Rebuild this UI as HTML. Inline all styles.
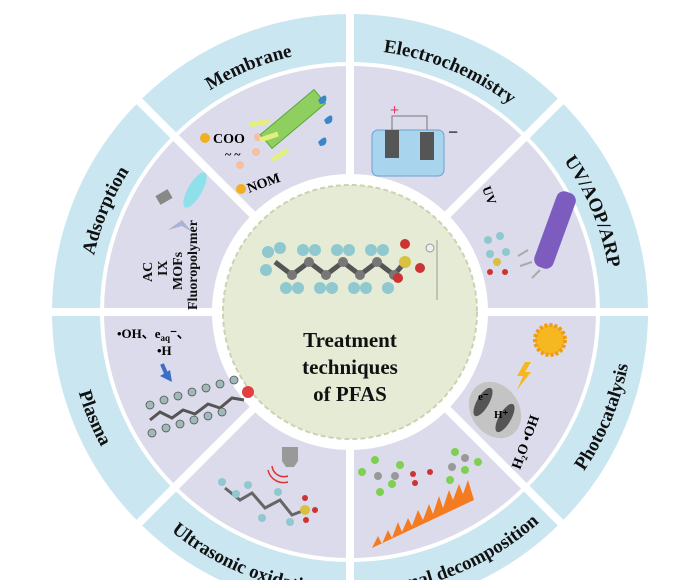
<!DOCTYPE html>
<html><head><style>
html,body{margin:0;padding:0;background:#fff;width:700px;height:580px;overflow:hidden;}
svg{display:block;font-family:"Liberation Serif",serif;font-weight:bold;}
</style></head><body>
<svg width="700" height="580" viewBox="0 0 700 580" overflow="hidden">
<defs>
<path id="pAds" d="M100.1,390.8 A262,262 0 0 1 229.0,79.6"/>
<path id="pMem" d="M117.6,191.0 A262,262 0 0 1 428.8,62.1"/>
<path id="pEle" d="M271.2,62.1 A262,262 0 0 1 582.4,191.0"/>
<path id="pUV" d="M471.0,79.6 A262,262 0 0 1 599.9,390.8"/>
<path id="pPho" d="M480.7,563.0 A283,283 0 0 0 619.9,226.9"/>
<path id="pThe" d="M264.9,581.9 A283,283 0 0 0 601.0,442.7"/>
<path id="pUlt" d="M99.0,442.7 A283,283 0 0 0 435.1,581.9"/>
<path id="pPla" d="M80.1,226.9 A283,283 0 0 0 219.3,563.0"/>
<clipPath id="cp"><rect width="700" height="580"/></clipPath>
</defs>
<g clip-path="url(#cp)">
<rect width="700" height="580" fill="#fff"/>
<circle cx="350" cy="312" r="274" fill="none" stroke="#c9e6f1" stroke-width="48"/>
<circle cx="350" cy="312" r="192" fill="none" stroke="#dcdbeb" stroke-width="108"/>
<g stroke="#fff" stroke-width="8">
<line x1="350" y1="0" x2="350" y2="580"/>
<line x1="40" y1="312" x2="660" y2="312"/>
<line x1="131" y1="93" x2="569" y2="531"/>
<line x1="569" y1="93" x2="131" y2="531"/>
</g>
<circle cx="350" cy="312" r="133" fill="#fff"/>
<circle cx="350" cy="312" r="127" fill="#e6ebd6" stroke="#c8d4b0" stroke-width="2" stroke-dasharray="5 3"/>
<g font-size="19" fill="#111">
<text><textPath href="#pAds" startOffset="50%" text-anchor="middle">Adsorption</textPath></text>
<text><textPath href="#pMem" startOffset="50%" text-anchor="middle">Membrane</textPath></text>
<text><textPath href="#pEle" startOffset="50%" text-anchor="middle">Electrochemistry</textPath></text>
<text><textPath href="#pUV" startOffset="50%" text-anchor="middle">UV/AOP/ARP</textPath></text>
<text><textPath href="#pPho" startOffset="50%" text-anchor="middle">Photocatalysis</textPath></text>
<text><textPath href="#pThe" startOffset="50%" text-anchor="middle">Thermal decomposition</textPath></text>
<text><textPath href="#pUlt" startOffset="50%" text-anchor="middle">Ultrasonic oxidation</textPath></text>
<text><textPath href="#pPla" startOffset="50%" text-anchor="middle">Plasma</textPath></text>
</g>
<g font-size="21" fill="#111" text-anchor="middle">
<text x="350" y="347">Treatment</text>
<text x="350" y="374">techniques</text>
<text x="350" y="401">of PFAS</text>
</g>
<g>
<polyline points="275,262 292,275 309,262 326,275 343,262 360,275 377,262 394,275 405,262" fill="none" stroke="#555" stroke-width="5"/>
<g fill="#8fc9cf">
<circle cx="268" cy="252" r="6"/><circle cx="266" cy="270" r="6"/><circle cx="280" cy="248" r="6"/>
<circle cx="286" cy="288" r="6"/><circle cx="298" cy="288" r="6"/>
<circle cx="303" cy="250" r="6"/><circle cx="315" cy="250" r="6"/>
<circle cx="320" cy="288" r="6"/><circle cx="332" cy="288" r="6"/>
<circle cx="337" cy="250" r="6"/><circle cx="349" cy="250" r="6"/>
<circle cx="354" cy="288" r="6"/><circle cx="366" cy="288" r="6"/>
<circle cx="371" cy="250" r="6"/><circle cx="383" cy="250" r="6"/>
<circle cx="388" cy="288" r="6"/>
</g>
<g fill="#777"><circle cx="292" cy="275" r="5"/><circle cx="309" cy="262" r="5"/><circle cx="326" cy="275" r="5"/><circle cx="343" cy="262" r="5"/><circle cx="360" cy="275" r="5"/><circle cx="377" cy="262" r="5"/><circle cx="394" cy="275" r="5"/></g>
<circle cx="405" cy="262" r="6" fill="#d8c040"/>
<circle cx="405" cy="244" r="5" fill="#c33"/><circle cx="420" cy="268" r="5" fill="#c33"/><circle cx="398" cy="278" r="5" fill="#c33"/>
<circle cx="430" cy="248" r="4" fill="#eee" stroke="#999"/>
<line x1="437" y1="240" x2="437" y2="300" stroke="#999"/>
</g>
<g>
<rect x="157" y="192" width="14" height="10" fill="#888" transform="rotate(-30 164 197)"/>
<ellipse cx="195" cy="190" rx="7" ry="20" fill="#8ee0ea" transform="rotate(30 195 190)"/>
<path d="M168,230 L182,220 L192,232 L182,226 Z" fill="#a9b3d6"/>
<g font-size="14" fill="#111">
<text transform="translate(152,282) rotate(-90)">AC</text>
<text transform="translate(167,276) rotate(-90)">IX</text>
<text transform="translate(182,290) rotate(-90)">MOFs</text>
<text transform="translate(197,310) rotate(-90)">Fluoropolymer</text>
</g>
</g>
<g>
<circle cx="205" cy="138" r="5" fill="#f0b020"/>
<text x="213" y="143" font-size="14">COO</text>
<text x="225" y="158" font-size="12">~ ~</text>
<circle cx="240" cy="165" r="4" fill="#f4c0a0"/><circle cx="256" cy="152" r="4" fill="#f4c0a0"/><circle cx="258" cy="137" r="4" fill="#f4c0a0"/>
<circle cx="241" cy="189" r="5" fill="#f0b020"/>
<text x="249" y="193" font-size="14" transform="rotate(-20 249 193)">NOM</text>
<rect x="258" y="110" width="70" height="18" fill="#8fcf60" stroke="#5aa63a" transform="rotate(-40 293 119)"/>
<path d="M260,140 l18,-6 M272,160 l16,-10 M250,125 l20,-4" stroke="#e3ef80" stroke-width="5"/>
<path d="M318,100 q6,-6 8,-4 q2,8 -6,8 z M324,120 q6,-6 8,-4 q2,8 -6,8 z M318,142 q6,-6 8,-4 q2,8 -6,8 z" fill="#3a86c8"/>
</g>
<g>
<rect x="372" y="130" width="72" height="46" rx="6" fill="#a9d4ee" stroke="#6aa0cf"/>
<rect x="385" y="130" width="14" height="28" fill="#555"/><rect x="420" y="132" width="14" height="28" fill="#555"/>
<text x="390" y="115" font-size="16" fill="#e04060">+</text>
<text x="448" y="138" font-size="18" fill="#222">−</text>
<path d="M392,130 V116 H427 V130" fill="none" stroke="#777"/>
</g>
<g>
<text x="482" y="188" font-size="13" transform="rotate(70 482 188)">UV</text>
<rect x="545" y="190" width="20" height="80" rx="8" fill="#7d5cc0" transform="rotate(20 555 230)"/>
<path d="M528,250 l-10,6 M532,262 l-12,4 M540,270 l-8,8" stroke="#aaa" stroke-width="2"/>
<g fill="#8fc9cf"><circle cx="488" cy="240" r="4"/><circle cx="500" cy="236" r="4"/><circle cx="490" cy="254" r="4"/><circle cx="506" cy="252" r="4"/></g>
<circle cx="497" cy="262" r="4" fill="#d8c040"/><circle cx="490" cy="272" r="3" fill="#c33"/><circle cx="505" cy="272" r="3" fill="#c33"/>
</g>
<g>
<circle cx="550" cy="340" r="15" fill="#f5b820" stroke="#f29a10" stroke-width="4" stroke-dasharray="3 2"/>
<path d="M525,362 l-8,14 h6 l-6,14 l14,-18 h-6 l6,-10z" fill="#f5b820"/>
<ellipse cx="495" cy="410" rx="24" ry="30" fill="#c4c4c4" transform="rotate(-35 495 410)"/>
<ellipse cx="483" cy="402" rx="6" ry="16" fill="#555" transform="rotate(30 483 402)"/>
<ellipse cx="505" cy="418" rx="6" ry="16" fill="#555" transform="rotate(30 505 418)"/>
<text x="478" y="400" font-size="11">e⁻</text><text x="494" y="418" font-size="11">H⁺</text>
<text x="520" y="470" font-size="14" transform="rotate(-70 520 470)">H₂O •OH</text>
</g>
<g>
<path d="M372,548 l6,-12 l4,8 l6,-14 l4,8 l6,-16 l4,10 l6,-14 l4,8 l6,-16 l5,10 l6,-16 l4,10 l6,-18 l4,12 l6,-18 l4,10 l6,-16 l4,10 l5,-14 l6,20 Z" fill="#f47b20"/>
<g fill="#7ed050"><circle cx="362" cy="472" r="4"/><circle cx="375" cy="460" r="4"/><circle cx="380" cy="492" r="4"/><circle cx="400" cy="465" r="4"/><circle cx="392" cy="484" r="4"/><circle cx="455" cy="452" r="4"/><circle cx="465" cy="470" r="4"/><circle cx="478" cy="462" r="4"/><circle cx="450" cy="480" r="4"/></g>
<g fill="#999"><circle cx="378" cy="476" r="4"/><circle cx="395" cy="476" r="4"/><circle cx="452" cy="467" r="4"/><circle cx="465" cy="458" r="4"/></g>
<circle cx="413" cy="474" r="3" fill="#c33"/><circle cx="415" cy="483" r="3" fill="#c33"/><circle cx="430" cy="472" r="3" fill="#c33"/>
</g>
<g>
<path d="M282,447 h16 v14 l-4,6 h-8 l-4,-6z" fill="#999"/>
<path d="M272,466 a12,12 0 0 0 16,10 M268,470 a16,16 0 0 0 20,12" fill="none" stroke="#d33" stroke-width="1.5"/>
<polyline points="225,488 240,500 252,493 265,508 280,500 292,515 305,510" fill="none" stroke="#666" stroke-width="3"/>
<g fill="#8fc9cf"><circle cx="222" cy="482" r="4"/><circle cx="236" cy="494" r="4"/><circle cx="248" cy="485" r="4"/><circle cx="262" cy="518" r="4"/><circle cx="278" cy="492" r="4"/><circle cx="290" cy="522" r="4"/></g>
<circle cx="305" cy="510" r="5" fill="#d8c040"/><circle cx="305" cy="498" r="3" fill="#c33"/><circle cx="315" cy="510" r="3" fill="#c33"/><circle cx="306" cy="520" r="3" fill="#c33"/>
</g>
<g>
<text x="117" y="338" font-size="13">•OH、e<tspan font-size="9" dy="3">aq</tspan><tspan dy="-3">⁻、</tspan></text>
<text x="157" y="355" font-size="13">•H</text>
<path d="M162,364 l6,14" stroke="#3a6fc8" stroke-width="4"/><path d="M160,376 l12,6 l-2,-12z" fill="#3a6fc8"/>
<polyline points="150,420 160,412 172,418 183,410 195,414 208,404 220,408 232,398 244,400" fill="none" stroke="#555" stroke-width="3"/>
<g fill="#9fb8b8" stroke="#555" stroke-width="0.8">
<circle cx="150" cy="405" r="4"/><circle cx="164" cy="400" r="4"/><circle cx="178" cy="396" r="4"/><circle cx="192" cy="392" r="4"/><circle cx="206" cy="388" r="4"/><circle cx="220" cy="384" r="4"/><circle cx="234" cy="380" r="4"/>
<circle cx="152" cy="433" r="4"/><circle cx="166" cy="428" r="4"/><circle cx="180" cy="424" r="4"/><circle cx="194" cy="420" r="4"/><circle cx="208" cy="416" r="4"/><circle cx="222" cy="412" r="4"/>
</g>
<circle cx="248" cy="392" r="6" fill="#e04040"/>
</g>
</g>
</svg>
</body></html>
